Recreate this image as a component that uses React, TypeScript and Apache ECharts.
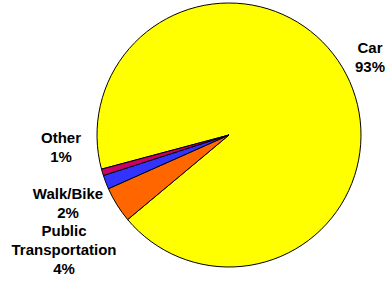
import React, { useEffect, useRef } from "react";
import * as echarts from "echarts";

const categories = ["Car", "Public\nTransportation", "Walk/Bike", "Other"];
const values = [93.1, 4.4, 1.7, 0.8];
const colors = ["#FFFF00", "#FF6600", "#3333FF", "#CC0066"];

export default function App() {
  const ref = useRef<HTMLDivElement>(null);
  useEffect(() => {
    document.body.style.margin = "0";
    const chart = echarts.init(ref.current!, null, { renderer: "svg" });
    const total = values.reduce((a, b) => a + b, 0);
    const labelPos = [
      [370, 57],
      [64, 249],
      [68, 203],
      [61, 147],
    ];
    chart.setOption({
      animation: false,
      backgroundColor: "#FFFFFF",
      series: [
        {
          type: "pie",
          center: [229, 135],
          radius: 132,
          startAngle: 195,
          clockwise: true,
          avoidLabelOverlap: false,
          itemStyle: { borderColor: "#000000", borderWidth: 1 },
          label: {
            show: true,
            position: "outside",
            color: "#000000",
            fontFamily: "Liberation Sans, Arial, sans-serif",
            fontWeight: "bold",
            fontSize: 15,
            lineHeight: 19,
            align: "center",
            formatter: (p: any) =>
              `${p.name}\n${Math.round((p.value / total) * 100)}%`,
          },
          labelLine: { show: false },
          labelLayout: (p: any) => ({
            x: labelPos[p.dataIndex][0],
            y: labelPos[p.dataIndex][1],
            align: "center",
            verticalAlign: "middle",
          }),
          emphasis: { disabled: true },
          data: categories.map((c, i) => ({
            name: c,
            value: values[i],
            itemStyle: { color: colors[i] },
          })),
        },
      ],
    });
    return () => chart.dispose();
  }, []);
  return <div ref={ref} style={{ width: 385, height: 281 }} />;
}
